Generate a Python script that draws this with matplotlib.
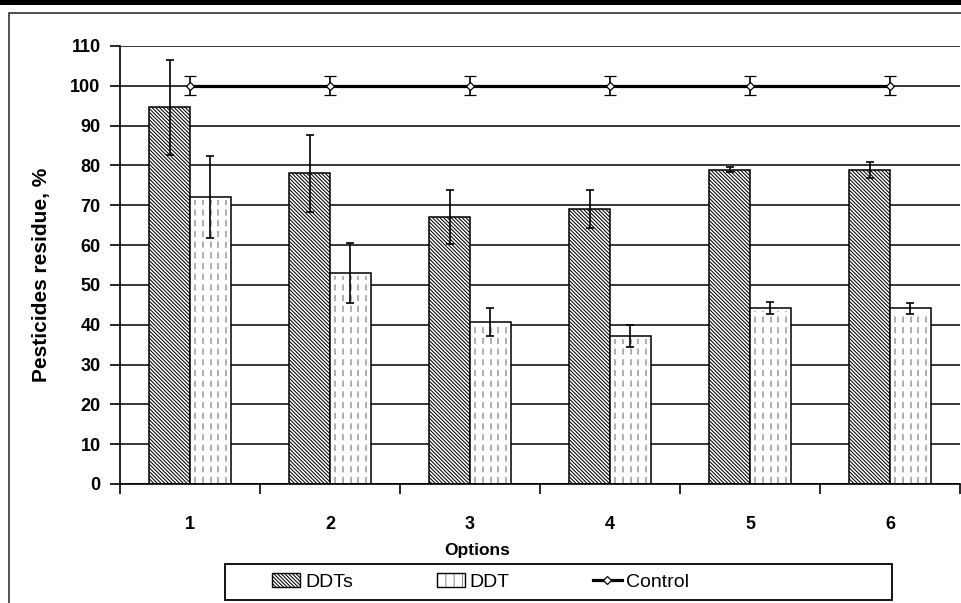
import matplotlib
matplotlib.use('Agg')
import matplotlib.pyplot as plt
import numpy as np
from matplotlib.patches import Patch, Rectangle
from matplotlib.lines import Line2D
from matplotlib.legend_handler import HandlerTuple

plt.rcParams['font.family'] = ['Liberation Sans', 'DejaVu Sans']
plt.rcParams['hatch.linewidth'] = 0.75

# Residue data per treatment option
options = ['1', '2', '3', '4', '5', '6']
ddts = [94.6, 78.0, 67.0, 69.0, 78.9, 78.9]
ddts_err = [12.0, 9.7, 6.8, 4.8, 0.6, 2.0]
ddt = [72.0, 53.0, 40.7, 37.2, 44.2, 44.1]
ddt_err = [10.3, 7.5, 3.5, 2.8, 1.5, 1.3]
control = [100, 100, 100, 100, 100, 100]
control_err = [2.4, 2.4, 2.4, 2.4, 2.4, 2.4]

W, H = 962, 603
fig = plt.figure(figsize=(W / 100, H / 100), dpi=100)
ax = fig.add_axes([120 / W, 1 - 484 / H, 840 / W, 438 / H])

x = np.arange(1, len(options) + 1)
w = 0.29
dense = '\\' * 9

ax.bar(x - w / 2, ddts, w, facecolor='white', edgecolor='black',
       hatch=dense, linewidth=1.1, zorder=2)
ax.bar(x + w / 2, ddt, w, facecolor='white', edgecolor='black',
       linewidth=1.1, zorder=2)

# dashed vertical fill for the DDT bars
for xi, v in zip(x, ddt):
    xs = xi + w * np.linspace(0.13, 0.88, 5)
    ax.vlines(xs, 0.3, v - 0.8, colors='#999999', linestyles=(0, (4, 3)),
              linewidth=1.1, zorder=3)

ax.errorbar(x - w / 2, ddts, yerr=ddts_err, fmt='none', ecolor='black',
            elinewidth=1.2, capsize=3, capthick=1.2, zorder=4)
ax.errorbar(x + w / 2, ddt, yerr=ddt_err, fmt='none', ecolor='black',
            elinewidth=1.2, capsize=3, capthick=1.2, zorder=4)

ax.errorbar(x, control, yerr=control_err, fmt='-', color='black', lw=2.3,
            marker='D', ms=4.5, mfc='white', mec='black', mew=0.9,
            ecolor='black', elinewidth=1.2, capsize=4, capthick=1.2, zorder=5)

ax.set_xlim(0.5, 6.5)
ax.set_ylim(0, 110)
ax.set_yticks(np.arange(0, 111, 10))
ax.yaxis.grid(True, color='black', linewidth=1.1)
ax.set_axisbelow(True)

for s in ['top', 'right']:
    ax.spines[s].set_visible(False)
ax.spines['left'].set_linewidth(1.2)
ax.spines['bottom'].set_linewidth(1.2)

ax.set_xticks(x)
ax.set_xticklabels(options)
ax.set_xticks(np.arange(0.5, 6.6, 1), minor=True)
ax.tick_params(axis='x', which='major', length=0, pad=23, labelsize=13)
ax.tick_params(axis='x', which='minor', length=7, width=1.2, direction='out')
ax.tick_params(axis='y', length=7, width=1.2, pad=7, labelsize=13)
for lab in ax.get_xticklabels() + ax.get_yticklabels():
    lab.set_fontweight('bold')

fig.text(42 / W, 1 - 275 / H, 'Pesticides residue, %', rotation=90,
         ha='center', va='center', fontsize=15, fontweight='bold')
fig.text(477 / W, 1 - 550 / H, 'Options', ha='center', va='center',
         fontsize=12.5, fontweight='bold')

# legend box along the bottom
fig.patches.append(Rectangle((225 / W, 1 - 600 / H), 667 / W, 36 / H,
                             transform=fig.transFigure, facecolor='white',
                             edgecolor='black', linewidth=1.3))
h_ddts = Patch(facecolor='white', edgecolor='black', hatch=dense, linewidth=1.0)
h_ddt = (Patch(facecolor='white', edgecolor='#8c8c8c', hatch='||', linewidth=0),
         Patch(facecolor='none', edgecolor='black', linewidth=1.0))
h_ctrl = Line2D([], [], color='black', lw=2.3, marker='D', ms=4.5,
                mfc='white', mec='black', mew=0.9)
fig.legend([h_ddts, h_ddt, h_ctrl], ['DDTs', 'DDT', 'Control'],
           handler_map={tuple: HandlerTuple(ndivide=1)},
           loc='center left', bbox_to_anchor=(272 / W, 1 - 582 / H),
           bbox_transform=fig.transFigure, ncol=3, frameon=False,
           borderpad=0, borderaxespad=0, handlelength=1.45,
           handletextpad=0.25, columnspacing=4.3,
           prop={'size': 14, 'stretch': 'condensed'})

# outer frame and dark band at the top
fig.patches.append(Rectangle((9 / W, -0.1), 1.2, 1 - 12.5 / H + 0.1,
                             transform=fig.transFigure, facecolor='none',
                             edgecolor='#222222', linewidth=1.1))
fig.patches.append(Rectangle((0, 1 - 4.5 / H), 1, 4.5 / H,
                             transform=fig.transFigure, facecolor='black',
                             edgecolor='none'))

fig.savefig('out.png', dpi=100, facecolor='white')
